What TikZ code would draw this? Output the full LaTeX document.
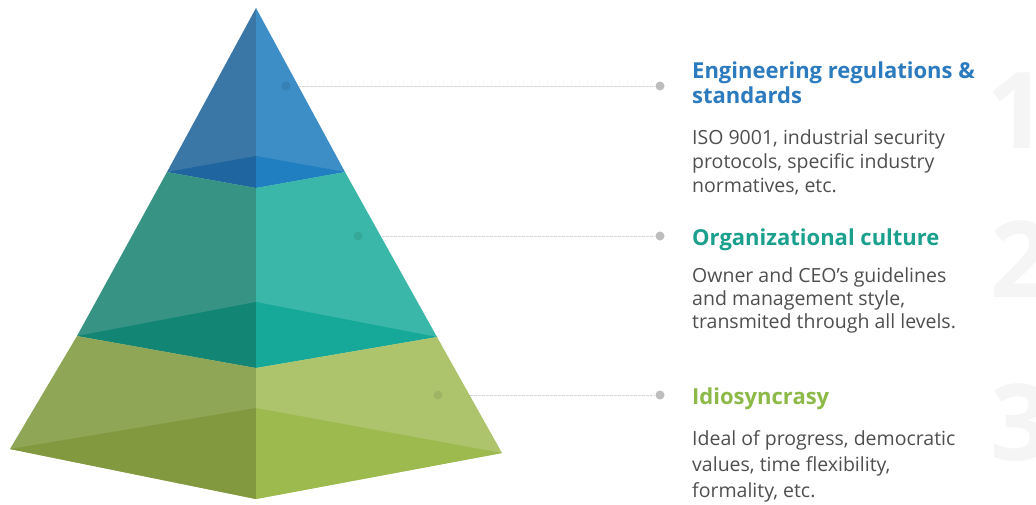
\documentclass[tikz,border=0pt]{standalone}
\usepackage{fontspec}
\setmainfont{Open Sans}
\definecolor{topleft}{HTML}{3A77A6}
\definecolor{topright}{HTML}{3D8DC6}
\definecolor{topdarkl}{HTML}{1F65A0}
\definecolor{topdarkr}{HTML}{1F7FC0}
\definecolor{midleft}{HTML}{379485}
\definecolor{midright}{HTML}{3AB7A8}
\definecolor{middarkl}{HTML}{128575}
\definecolor{middarkr}{HTML}{16A999}
\definecolor{botleft}{HTML}{8FA657}
\definecolor{botright}{HTML}{ADC46D}
\definecolor{botdarkl}{HTML}{82993F}
\definecolor{botdarkr}{HTML}{9DBA4F}
\definecolor{engblue}{HTML}{2B7BBE}
\definecolor{orgteal}{HTML}{1BA08E}
\definecolor{idiogreen}{HTML}{8CB947}
\definecolor{bodygray}{HTML}{4F4F4F}
\definecolor{numgray}{HTML}{F5F5F5}
\definecolor{leadergray}{HTML}{D4D4D4}
\definecolor{dotgray}{HTML}{BDBDBD}
\tikzset{
  heading/.style={anchor=base west, inner sep=0pt, align=left,
    font=\bfseries\fontsize{22}{25}\selectfont},
  bodytext/.style={anchor=base west, inner sep=0pt, align=left, text=bodygray,
    font=\fontsize{19.5}{24}\selectfont},
  bignum/.style={anchor=base west, inner sep=0pt, text=numgray,
    font=\bfseries\fontsize{106}{106}\selectfont},
  leader/.style={draw=leadergray, line width=0.7pt, dash pattern=on 2.5pt off 1.5pt},
  enddot/.style={circle, fill=dotgray, inner sep=0pt, minimum size=9pt},
  facedot/.style={circle, fill=black, fill opacity=0.08, inner sep=0pt, minimum size=9pt}
}
\begin{document}
\begin{tikzpicture}[x=1pt, y=-1pt]
    \useasboundingbox[fill=white] (0,0) rectangle (1036,504);
    \node[bignum] (num-one) at (986,148) {1};
    \node[bignum] (num-two) at (990,297) {2};
    \node[bignum] (num-three) at (990,460) {3};
    \coordinate (apex) at (256,8);
    \coordinate (t-left) at (167,172);
    \coordinate (t-right) at (345,172);
    \coordinate (t-front) at (256,188);
    \coordinate (t-back) at (256,156);
    \coordinate (m-left) at (77,336);
    \coordinate (m-right) at (437,337);
    \coordinate (m-front) at (256,368);
    \coordinate (m-back) at (256,302);
    \coordinate (b-left) at (10,449);
    \coordinate (b-right) at (502,453);
    \coordinate (b-front) at (256,499);
    \coordinate (b-back) at (256,408);
    \coordinate (eng-pos) at (286,86);
    \coordinate (org-pos) at (358,236);
    \coordinate (idio-pos) at (438,395);
    \node[enddot] (eng-end) at (660,86) {};
    \node[enddot] (org-end) at (660,236) {};
    \node[enddot] (idio-end) at (660,395) {};
    \draw[leader] (eng-pos) -- (eng-end);
    \draw[leader] (org-pos) -- (org-end);
    \draw[leader] (idio-pos) -- (idio-end);
    \fill[topleft] (apex) -- (t-left) -- (t-front) -- cycle;
    \fill[topright] (apex) -- (t-front) -- (t-right) -- cycle;
    \fill[topdarkl] (t-left) -- (t-back) -- (t-front) -- cycle;
    \fill[topdarkr] (t-back) -- (t-right) -- (t-front) -- cycle;
    \fill[midleft] (t-left) -- (m-left) -- (m-front) -- (t-front) -- cycle;
    \fill[midright] (t-front) -- (m-front) -- (m-right) -- (t-right) -- cycle;
    \fill[middarkl] (m-left) -- (m-back) -- (m-front) -- cycle;
    \fill[middarkr] (m-back) -- (m-right) -- (m-front) -- cycle;
    \fill[botleft] (m-left) -- (b-left) -- (b-front) -- (m-front) -- cycle;
    \fill[botright] (m-front) -- (b-front) -- (b-right) -- (m-right) -- cycle;
    \fill[botdarkl] (b-left) -- (b-back) -- (b-front) -- cycle;
    \fill[botdarkr] (b-back) -- (b-right) -- (b-front) -- cycle;
    \node[facedot] (eng-dot) at (eng-pos) {};
    \node[facedot] (org-dot) at (org-pos) {};
    \node[facedot] (idio-dot) at (idio-pos) {};
    \node[heading, text=engblue] (eng-title) at (692,103) {Engineering regulations \&\\standards};
    \node[bodytext] (eng-text) at (692,192) {ISO 9001, industrial security\\protocols, specific industry\\normatives, etc.};
    \node[heading, text=orgteal] (org-title) at (692,245) {Organizational culture};
    \node[bodytext, font=\fontsize{19.5}{23}\selectfont] (org-text) at (692,328) {Owner and CEO’s guidelines\\and management style,\\transmited through all levels.};
    \node[heading, text=idiogreen] (idio-title) at (692,404) {Idiosyncrasy};
    \node[bodytext, font=\fontsize{19.5}{26}\selectfont] (idio-text) at (692,497) {Ideal of progress, democratic\\values, time flexibility,\\formality, etc.};
\end{tikzpicture}
\end{document}
